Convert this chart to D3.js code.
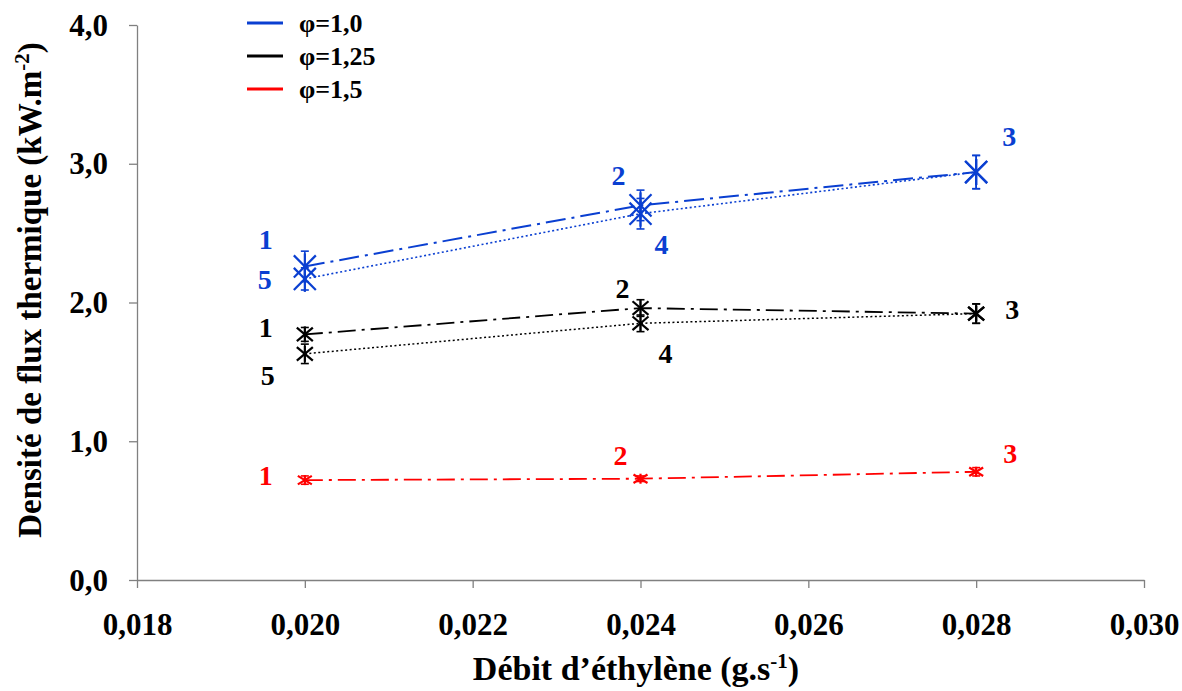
<!DOCTYPE html>
<html><head><meta charset="utf-8">
<script src="https://cdn.jsdelivr.net/npm/d3@7"></script>
<style>body{margin:0;background:#fff}svg{display:block}</style>
</head><body>
<script>
// ---- data ----
const debits = [0.020, 0.024, 0.028];
const xTicks = [0.018, 0.020, 0.022, 0.024, 0.026, 0.028, 0.030];
const yTicks = [0, 1, 2, 3, 4];
const blue123 = [2.26, 2.70, 2.94];
const blue123Err = [0.11, 0.11, 0.12];
const blue543 = [2.17, 2.64, 2.94];
const blue543Err = [0.08, 0.11, 0.12];
const black123 = [1.77, 1.96, 1.92];
const black123Err = [0.05, 0.06, 0.07];
const black543 = [1.63, 1.85, 1.92];
const black543Err = [0.07, 0.06, 0.07];
const red123 = [0.72, 0.73, 0.78];
const red123Err = [0.03, 0.02, 0.03];
const legendLabels = ["φ=1,0", "φ=1,25", "φ=1,5"];
const blue123Labels = ["1", "2", "3"];
const blue543Labels = ["5", "4", ""];
const black123Labels = ["1", "2", "3"];
const black543Labels = ["5", "4", ""];
const red123Labels = ["1", "2", "3"];

const W = 1182, H = 691;
const FONT = "Liberation Serif";
const svg = d3.select("body").append("svg").attr("width", W).attr("height", H);
const x = d3.scaleLinear().domain([0.018, 0.030]).range([137, 1144]);
const y = d3.scaleLinear().domain([0, 4]).range([580, 25]);
const BLUE = "#0a3fd1", BLACK = "#000", RED = "#ff0000";
const styleText = sel => sel.style("font-family", FONT).style("font-weight", "bold");

// axes
const fmt = d => d.toFixed(3).replace(".", ",");
const gx = svg.append("g").attr("transform", "translate(0,580)")
  .call(d3.axisBottom(x).tickValues(xTicks).tickFormat(fmt).tickSize(8).tickSizeOuter(0));
const gy = svg.append("g").attr("transform", "translate(137,0)")
  .call(d3.axisLeft(y).tickValues(yTicks).tickFormat(d => d.toFixed(1).replace(".", ",")).tickSize(8).tickSizeOuter(0));
[gx, gy].forEach(g => {
  g.selectAll("path,line").attr("stroke", "#808080").attr("stroke-width", 1.3);
  g.selectAll("text").attr("font-size", 31).attr("fill", "#000").call(styleText);
});
gx.selectAll("text").attr("y", 0).attr("dy", 55);
gy.selectAll("text").attr("x", -29).attr("dy", "0.33em");

// titles
const yt = svg.append("text").attr("transform", "translate(41,290) rotate(-90)")
  .attr("text-anchor", "middle").attr("font-size", 33).call(styleText);
yt.append("tspan").text("Densité de flux thermique (kW.m");
yt.append("tspan").text("-2").attr("font-size", 21).attr("dy", -12);
yt.append("tspan").text(")").attr("dy", 12);
const xt = svg.append("text").attr("x", 636).attr("y", 680)
  .attr("text-anchor", "middle").attr("font-size", 34).call(styleText);
xt.append("tspan").text("Débit d’éthylène (g.s");
xt.append("tspan").text("-1").attr("font-size", 21).attr("dy", -12);
xt.append("tspan").text(")").attr("dy", 12);

// series
const series = [
  {vals: blue123, err: blue123Err, labels: blue123Labels, color: BLUE, dash: "20,6,3,6", w: 2, ms: [11, 13],
   off: [[-39, -27], [-22, -30], [33, -36]]},
  {vals: blue543, err: blue543Err, labels: blue543Labels, color: BLUE, dash: "2,2.5", w: 1.6, ms: [11, 13],
   off: [[-40, 0], [21, 30], [0, 0]]},
  {vals: black123, err: black123Err, labels: black123Labels, color: BLACK, dash: "18,6,3,6", w: 1.8, ms: [8, 8],
   off: [[-39, -7], [-18, -20], [36, -4]]},
  {vals: black543, err: black543Err, labels: black543Labels, color: BLACK, dash: "2,2.5", w: 1.5, ms: [8, 8],
   off: [[-37, 21], [25, 30], [0, 0]]},
  {vals: red123, err: red123Err, labels: red123Labels, color: RED, dash: "18,6,3,6", w: 1.8, ms: [7, 5],
   off: [[-39, -5], [-20, -24], [34, -19]]}
];
const line = d3.line().x(d => x(d[0])).y(d => y(d[1]));
series.forEach(s => {
  const pts = debits.map((d, i) => [d, s.vals[i], s.err[i]]);
  svg.append("path").attr("d", line(pts)).attr("fill", "none").attr("stroke", s.color)
    .attr("stroke-width", s.w).attr("stroke-dasharray", s.dash);
  const g = svg.append("g").attr("stroke", s.color).attr("stroke-width", 1.6).attr("fill", "none");
  pts.forEach(p => {
    const cx = x(p[0]), cy = y(p[1]), y1 = y(p[1] + p[2]), y2 = y(p[1] - p[2]);
    g.append("line").attr("x1", cx).attr("x2", cx).attr("y1", y1).attr("y2", y2);
    g.append("line").attr("x1", cx - 4).attr("x2", cx + 4).attr("y1", y1).attr("y2", y1);
    g.append("line").attr("x1", cx - 4).attr("x2", cx + 4).attr("y1", y2).attr("y2", y2);
    const [mw, mh] = s.ms;
    const mg = g.append("g").attr("stroke-width", 2.2);
    mg.append("line").attr("x1", cx - mw).attr("x2", cx + mw).attr("y1", cy - mh * 0.85).attr("y2", cy + mh * 0.85);
    mg.append("line").attr("x1", cx - mw).attr("x2", cx + mw).attr("y1", cy + mh * 0.85).attr("y2", cy - mh * 0.85);
    mg.append("line").attr("x1", cx).attr("x2", cx).attr("y1", cy - mh).attr("y2", cy + mh);
  });
  pts.forEach((p, i) => {
    if (!s.labels[i]) return;
    svg.append("text").attr("x", x(p[0]) + s.off[i][0]).attr("y", y(p[1]) + s.off[i][1])
      .attr("text-anchor", "middle").attr("dy", "0.35em").attr("font-size", 28)
      .attr("fill", s.color).call(styleText).text(s.labels[i]);
  });
});

// legend
const legColors = [BLUE, BLACK, RED];
legendLabels.forEach((t, i) => {
  const ly = 23 + i * 33;
  svg.append("line").attr("x1", 247).attr("x2", 283).attr("y1", ly).attr("y2", ly)
    .attr("stroke", legColors[i]).attr("stroke-width", 3);
  svg.append("text").attr("x", 299).attr("y", ly).attr("dy", "0.35em")
    .attr("font-size", 26).call(styleText).text(t);
});
</script>
</body></html>
